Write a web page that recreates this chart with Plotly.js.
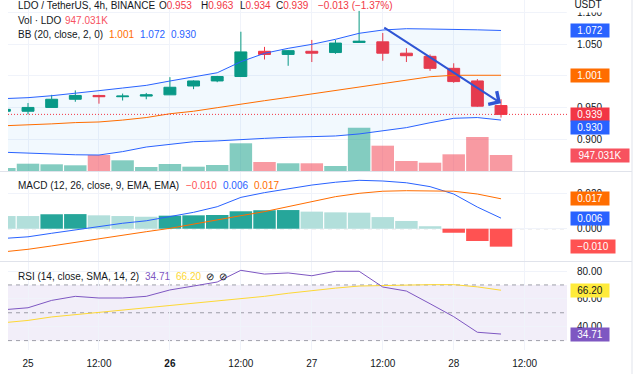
<!DOCTYPE html>
<html><head><meta charset="utf-8">
<script src="https://cdn.plot.ly/plotly-3.0.1.min.js"></script>
<style>html,body{margin:0;padding:0;background:#fff;}#chart{width:640px;height:374px;}</style>
</head><body><div id="chart"></div>
<script>
// ---------- data ----------
const times = ['24 20:00','25 00:00','25 04:00','25 08:00','25 12:00','25 16:00','25 20:00',
  '26 00:00','26 04:00','26 08:00','26 12:00','26 16:00','26 20:00',
  '27 00:00','27 04:00','27 08:00','27 12:00','27 16:00','27 20:00',
  '28 00:00','28 04:00','28 08:00'];
const open  = [0.944,0.944,0.950,0.963,0.969,0.967,0.968,0.970,0.984,0.992,0.999,1.039,1.034,1.039,1.037,1.053,1.054,1.036,1.031,1.012,0.992,0.953];
const high  = [0.948,0.957,0.970,0.977,0.970,0.972,0.973,0.998,0.993,1.000,1.070,1.046,1.041,1.057,1.057,1.103,1.068,1.044,1.034,1.020,0.995,0.963];
const low   = [0.942,0.939,0.950,0.959,0.956,0.961,0.963,0.970,0.979,0.990,0.999,1.026,1.016,1.022,1.035,1.053,1.024,1.022,1.008,0.989,0.951,0.934];
const close = [0.947,0.950,0.963,0.969,0.967,0.968,0.970,0.982,0.992,0.999,1.038,1.034,1.040,1.036,1.052,1.055,1.036,1.032,1.012,0.991,0.952,0.939];
const volume = [178000,432000,396000,337000,947000,633000,237000,414000,255000,355000,1640000,533000,456000,456000,296000,2563000,1498000,592000,491000,988000,2013000,947031];
const bbUpper = [0.964,0.9655,0.9686,0.972,0.9766,0.9808,0.985,0.9919,0.9987,1.005,1.0225,1.0358,1.0437,1.050,1.058,1.0675,1.0727,1.0748,1.0743,1.074,1.073,1.072];
const bbBasis = [0.921,0.922,0.924,0.926,0.927,0.930,0.934,0.940,0.944,0.9496,0.9555,0.9607,0.966,0.9713,0.977,0.983,0.988,0.993,0.9987,1.001,1.0014,1.001];
const bbLower = [0.879,0.8773,0.8762,0.875,0.8746,0.880,0.8873,0.892,0.8957,0.897,0.8995,0.901,0.9027,0.9037,0.9048,0.908,0.9127,0.918,0.9258,0.9328,0.934,0.930];
const macdLine = [-0.0055,-0.0046,-0.0026,-0.0007,0.0015,0.0031,0.0045,0.0068,0.0093,0.0125,0.0178,0.0205,0.0226,0.0248,0.0264,0.0275,0.0271,0.0261,0.0239,0.0197,0.0123,0.006];
const signalLine = [-0.0131,-0.0117,-0.0098,-0.0077,-0.0055,-0.0036,-0.0017,0.0002,0.0027,0.0049,0.0074,0.0097,0.0125,0.0153,0.0182,0.0201,0.0213,0.0216,0.0216,0.0213,0.0197,0.017];
const macdHist = [0.0072,0.0072,0.0082,0.0083,0.0076,0.0072,0.0068,0.0074,0.0076,0.0078,0.0099,0.0105,0.0106,0.0097,0.0093,0.0091,0.0066,0.0044,0.0014,-0.0023,-0.0070,-0.0102];
const rsi   = [52.2,53.6,58.9,61.8,60.6,60.6,61.8,66.4,69.2,72.1,80.5,77.8,78.6,76.6,79.8,79.8,68.5,65.6,56.5,47.2,36.0,34.71];
const rsiMA = [42.9,44.5,47.0,48.6,50.2,51.8,53.6,55.4,56.8,58.2,60.0,61.8,64.0,66.1,67.7,69.2,69.7,70.0,70.2,70.2,68.6,66.2];
const tickPos  = [1,4,7,10,13,16,19,22];
const tickText = ['25','12:00','26','12:00','27','12:00','28','12:00'];
const boldTick = '26';
const priceTicks = [0.900,0.950,1.000,1.050,1.100];
const macdTicks = [0.000,0.020];
const rsiTicks = [40,60,80];
const rsiBands = [30,50,70];
const drawX = [16,21];
const drawY = [1.078,0.9566];

// ---------- helpers ----------
const FONT = 'Liberation Sans, Arial, Helvetica, sans-serif';
const PX_L = 8, PX_R = 567, PLOT_H = 350;
const px2x = px => (px - PX_L) / (PX_R - PX_L);
const px2y = py => (PLOT_H - py) / PLOT_H;
const xs = times.map((t, i) => i);
const N = xs.length, L = N - 1;
const GREEN = '#089981', RED = '#f23645', BLUE = '#2962ff', ORANGE = '#ff6d00', PURPLE = '#7e57c2', YELLOW = '#fdd835';
const minus = s => s.replace('-', '\u2212');
const f3 = v => minus(v.toFixed(3));

const volColors = xs.map(i => close[i] >= open[i] ? 'rgba(8,153,129,0.5)' : 'rgba(242,54,69,0.5)');
const histColors = macdHist.map((v, i) => {
  const prev = i > 0 ? macdHist[i - 1] : v;
  if (v >= 0) return v > prev ? '#26a69a' : '#b2dfdb';
  return v < prev ? '#ff5252' : '#ffcdd2';
});

const traces = [
  {type:'bar', x:xs, y:volume, yaxis:'y', xaxis:'x', marker:{color:volColors, line:{width:0}}, width:0.95, hoverinfo:'skip'},
  {type:'scatter', mode:'lines', x:xs, y:bbLower, yaxis:'y2', line:{color:BLUE, width:1}, hoverinfo:'skip'},
  {type:'scatter', mode:'lines', x:xs, y:bbUpper, yaxis:'y2', line:{color:BLUE, width:1}, fill:'tonexty', fillcolor:'rgba(33,150,243,0.06)', hoverinfo:'skip'},
  {type:'scatter', mode:'lines', x:xs, y:bbBasis, yaxis:'y2', line:{color:ORANGE, width:1}, hoverinfo:'skip'},
  {type:'candlestick', x:xs, open:open, high:high, low:low, close:close, yaxis:'y2', whiskerwidth:0,
    increasing:{line:{color:GREEN, width:1}, fillcolor:GREEN},
    decreasing:{line:{color:RED, width:1}, fillcolor:RED}, hoverinfo:'skip'},
  {type:'bar', x:xs, y:macdHist, yaxis:'y3', marker:{color:histColors, line:{width:0}}, width:0.95, hoverinfo:'skip'},
  {type:'scatter', mode:'lines', x:xs, y:macdLine, yaxis:'y3', line:{color:BLUE, width:1}, hoverinfo:'skip'},
  {type:'scatter', mode:'lines', x:xs, y:signalLine, yaxis:'y3', line:{color:ORANGE, width:1}, hoverinfo:'skip'},
  {type:'scatter', mode:'lines', x:xs, y:rsiMA, yaxis:'y4', line:{color:YELLOW, width:1}, hoverinfo:'skip'},
  {type:'scatter', mode:'lines', x:xs, y:rsi, yaxis:'y4', line:{color:PURPLE, width:1}, hoverinfo:'skip'}
];

const GRID = '#f0f3fa';
const yCommon = {side:'right', anchor:'x', showgrid:true, gridcolor:GRID, zeroline:false, showline:false, ticks:'',
  ticklabelstandoff:9, tickfont:{size:10, color:'#131722', family:FONT}, fixedrange:true, tickmode:'array'};

function valBox(text, yref, y, bg, fg, w, yshift) {
  return {xref:'paper', x:1, xanchor:'left', xshift:3, yref:yref, y:y, yanchor:'middle', yshift:yshift || 0,
    text:text, showarrow:false, bgcolor:bg, font:{color:fg, size:10, family:FONT}, width:w, height:11, borderpad:1, align:'center'};
}
function hdr(text, px, py, color) {
  return {xref:'paper', yref:'paper', x:px2x(px), y:px2y(py), xanchor:'left', yanchor:'middle', text:text,
    showarrow:false, font:{size:10, color:color || '#131722', family:FONT}};
}
const red = s => '<span style="color:' + RED + '">' + s + '</span>';

const chg = close[L] - close[L - 1];
const pct = chg / close[L - 1] * 100;

const annotations = [
  hdr('LDO / TetherUS, 4h, BINANCE', 15.7, 6),
  hdr('O' + red(f3(open[L])), 156.7, 6),
  hdr('H' + red(f3(high[L])), 199, 6),
  hdr('L' + red(f3(low[L])), 237.7, 6),
  hdr('C' + red(f3(close[L])), 274.3, 6),
  hdr(red(f3(chg) + ' (' + minus(pct.toFixed(2)) + '%)'), 316, 6),
  hdr('Vol \u00b7 LDO', 15.7, 20),
  hdr((volume[L] / 1000).toFixed(3) + 'K', 63.3, 20, '#f7525f'),
  hdr('BB (20, close, 2, 0)', 15.7, 34),
  hdr(f3(bbBasis[L]), 107.3, 34, ORANGE),
  hdr(f3(bbUpper[L]), 138.3, 34, BLUE),
  hdr(f3(bbLower[L]), 169.3, 34, BLUE),
  hdr('MACD (12, 26, close, 9, EMA, EMA)', 15.7, 185),
  hdr(f3(macdHist[L]), 184.3, 185, '#ff5252'),
  hdr(f3(macdLine[L]), 220.7, 185, BLUE),
  hdr(f3(signalLine[L]), 252.3, 185, ORANGE),
  hdr('RSI (14, close, SMA, 14, 2)', 15.7, 276),
  hdr(rsi[L].toFixed(2), 142.7, 276, PURPLE),
  hdr(rsiMA[L].toFixed(2), 174, 276, YELLOW),
  hdr('\u2298', 204, 276),
  hdr('\u2298', 216.5, 276),
  {xref:'paper', yref:'paper', x:px2x(588), y:px2y(4), xanchor:'center', yanchor:'middle', text:'USDT', showarrow:false,
    bgcolor:'#ffffff', height:14, width:40, font:{size:10, color:'#131722', family:FONT}},
  valBox(f3(bbUpper[L]), 'y2', bbUpper[L], BLUE, '#fff', 36),
  valBox(f3(bbBasis[L]), 'y2', bbBasis[L], ORANGE, '#fff', 36),
  valBox(f3(close[L]), 'y2', close[L], RED, '#fff', 36),
  valBox(f3(bbLower[L]), 'y2', bbLower[L], BLUE, '#fff', 36, -7),
  valBox((volume[L] / 1000).toFixed(3) + 'K', 'y', volume[L], '#f7525f', '#fff', 56),
  valBox(f3(signalLine[L]), 'y3', signalLine[L], ORANGE, '#fff', 36),
  valBox(f3(macdLine[L]), 'y3', macdLine[L], BLUE, '#fff', 36),
  valBox(f3(macdHist[L]), 'y3', macdHist[L], '#ff5252', '#fff', 42),
  valBox(rsiMA[L].toFixed(2), 'y4', rsiMA[L], '#ffeb3b', '#131722', 36),
  valBox(rsi[L].toFixed(2), 'y4', rsi[L], PURPLE, '#fff', 36),
  {x:drawX[1], y:drawY[1], ax:drawX[0], ay:drawY[0], xref:'x', yref:'y2', axref:'x', ayref:'y2',
    showarrow:true, arrowhead:4, arrowsize:1.5, arrowwidth:2, arrowcolor:'#2f55d4', text:'', standoff:0, startstandoff:0}
];

const SEP = '#e0e3eb';
const dashGray = {color:'rgba(120,123,134,0.7)', width:1, dash:'4px,4px'};
const shapes = [
  {type:'rect', xref:'paper', x0:0, x1:1, yref:'y4', y0:rsiBands[0], y1:rsiBands[2], fillcolor:'rgba(126,87,194,0.1)', line:{width:0}, layer:'below'},
  ...rsiBands.map(v => ({type:'line', xref:'paper', x0:0, x1:1, yref:'y4', y0:v, y1:v, line:dashGray, layer:'below'})),
  {type:'line', xref:'paper', x0:0, x1:1, yref:'y3', y0:0, y1:0, line:{color:'rgba(120,123,134,0.5)', width:1, dash:'4px,4px'}, layer:'below'},
  {type:'line', xref:'paper', x0:0, x1:1, yref:'y2', y0:close[L], y1:close[L], line:{color:RED, width:1, dash:'1px,2px'}, layer:'above'},
  {type:'line', xref:'paper', yref:'paper', x0:px2x(0), x1:px2x(632), y0:px2y(171.5), y1:px2y(171.5), line:{color:SEP, width:1}},
  {type:'line', xref:'paper', yref:'paper', x0:px2x(0), x1:px2x(632), y0:px2y(261.5), y1:px2y(261.5), line:{color:SEP, width:1}},
  {type:'line', xref:'paper', yref:'paper', x0:px2x(632), x1:px2x(632), y0:px2y(0), y1:px2y(374), line:{color:SEP, width:1}}
];

const layout = {
  width:640, height:374,
  margin:{l:PX_L, r:640 - PX_R, t:0, b:374 - PLOT_H},
  paper_bgcolor:'#ffffff', plot_bgcolor:'#ffffff',
  showlegend:false, barmode:'overlay', boxgap:0.28,
  font:{family:FONT, size:10, color:'#131722'},
  xaxis:{domain:[0,1], range:[0.154,23.79], anchor:'y4', tickmode:'array', tickvals:tickPos,
    ticktext:tickText.map(t => t === boldTick ? '<b>' + t + '</b>' : t),
    showgrid:true, gridcolor:GRID, zeroline:false, showline:false, ticks:'', ticklabelstandoff:6,
    rangeslider:{visible:false}, fixedrange:true, tickfont:{size:10, color:'#131722', family:FONT}},
  yaxis:{domain:[px2y(171),1], range:[0,10.12e6], visible:false, fixedrange:true},
  yaxis2:Object.assign({}, yCommon, {overlaying:'y', range:[0.84929,1.12029], tickvals:priceTicks, tickformat:'.3f'}),
  yaxis3:Object.assign({}, yCommon, {domain:[px2y(261),px2y(172)], range:[-0.01835,0.03222], tickvals:macdTicks, tickformat:'.3f'}),
  yaxis4:Object.assign({}, yCommon, {domain:[0,px2y(262)], range:[23.25,86.47], tickvals:rsiTicks, tickformat:'.2f'}),
  annotations:annotations, shapes:shapes
};

Plotly.newPlot('chart', traces, layout, {staticPlot:true, displayModeBar:false});
</script>
</body></html>
